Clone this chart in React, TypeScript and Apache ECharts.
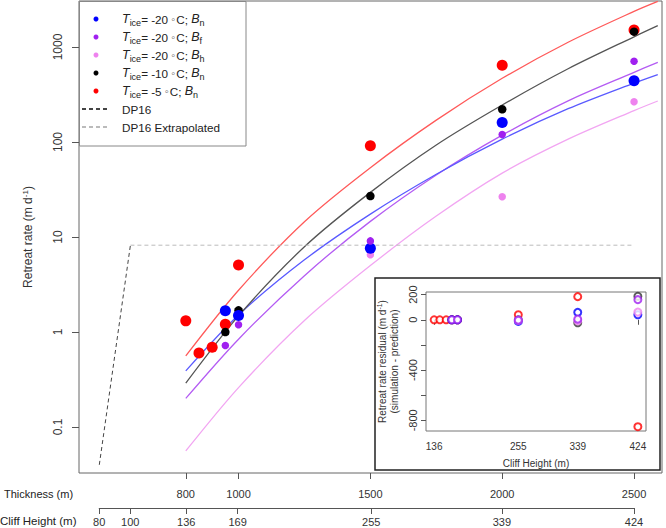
import React, { useEffect, useRef } from 'react';
import * as echarts from 'echarts';

const SANS = "'Liberation Sans', Arial, sans-serif";

// ---- main panel: simulated retreat rate (m/d) vs ice thickness (m)
const blueT = [950, 1000, 1500, 2000, 2500];
const blueRate = [1.67, 1.49, 7.6, 160, 442];
const purpleT = [950, 1000, 1500, 2000, 2500];
const purpleRate = [0.72, 1.19, 9.1, 120, 707];
const violetT = [1500, 2000, 2500];
const violetRate = [6.5, 26.5, 265];
const blackT = [950, 1000, 1500, 2000, 2500];
const blackRate = [1.0, 1.69, 27, 221, 1449];
const redT = [800, 850, 900, 950, 1000, 1500, 2000, 2500];
const redRate = [1.31, 0.6, 0.69, 1.21, 5.07, 91.5, 641, 1511];

// fitted curves
const fitT = [800, 1000, 1250, 1500, 1750, 2000, 2250, 2500, 2590];
const fitBlue = [0.39, 1.51, 5.75, 17.4, 45.7, 107, 224, 417, 513];
const fitPurple = [0.2, 0.84, 3.92, 14.6, 45, 118, 271, 541, 690];
const fitViolet = [0.056, 0.26, 1.32, 5.0, 16.6, 47, 107, 214, 270];
const fitBlack = [0.29, 1.48, 7.9, 29.5, 93, 245, 590, 1280, 1675];
const fitRed = [0.56, 2.75, 14.5, 53.7, 170, 468, 1122, 2371, 3020];

const dp16T = [472, 590];
const dp16Rate = [0.04, 8.2];
const dp16ExtT = [590, 2500];
const dp16ExtRate = [8.2, 8.2];

const thicknessTicks = [800, 1000, 1500, 2000, 2500];
const cliffTicks = [80, 100, 136, 169, 255, 339, 424];
const rateTicks = [0.1, 1, 10, 100, 1000];

// ---- inset: residuals (m/d) vs cliff height (m)
const insetTicksX = [136, 255, 339, 424];
const insetTicksY = [-800, -600, -400, -200, 0, 200];
const insetLabelsY = [-800, -400, 0, 200];
const redResH = [136, 144, 153, 161, 169, 255, 339, 424];
const redRes = [0, 0, 0, 0, 0, 40, 184, -851];
const blackResH = [161, 169, 255, 339, 424];
const blackRes = [0, 0, 0, -24, 187];
const blueResH = [161, 169, 255, 339, 424];
const blueRes = [0, 0, -13, 59, 40];
const violetResH = [255, 339, 424];
const violetRes = [-5, -8, 61];
const purpleResH = [161, 169, 255, 339, 424];
const purpleRes = [0, 0, -3, 5, 160];

const COL = { blue: '#0000FF', purple: '#A020F0', violet: '#EE82EE', black: '#000000', red: '#FF0000' };
const FIT = { blue: '#5a5aff', purple: '#b45cf3', violet: '#f2a6f2', black: '#555555', red: '#ff5a5a' };

const NAMES = {
  blue: 'Tice=-20 Bn',
  purple: 'Tice=-20 Bf',
  violet: 'Tice=-20 Bh',
  black: 'Tice=-10 Bn',
  red: 'Tice=-5 Bn',
};
const LEG: Record<string, string> = {
  [NAMES.blue]: '{g| }{i|T}{s|ice}{n|= -20 }{d|◦}{n|C; }{i|B}{s|n}',
  [NAMES.purple]: '{g| }{i|T}{s|ice}{n|= -20 }{d|◦}{n|C; }{i|B}{s|f}',
  [NAMES.violet]: '{g| }{i|T}{s|ice}{n|= -20 }{d|◦}{n|C; }{i|B}{s|h}',
  [NAMES.black]: '{g| }{i|T}{s|ice}{n|= -10 }{d|◦}{n|C; }{i|B}{s|n}',
  [NAMES.red]: '{g| }{i|T}{s|ice}{n|= -5 }{d|◦}{n|C; }{i|B}{s|n}',
  DP16: '{g| }{n|DP16}',
  'DP16 Extrapolated': '{g| }{n|DP16 Extrapolated}',
};

const zip = (xs: number[], ys: number[]) => xs.map((x, i) => [x, ys[i]]);

const fitLine = (name: string, ys: number[], color: string) => ({
  type: 'line', name, xAxisIndex: 0, yAxisIndex: 0, data: zip(fitT, ys),
  smooth: 0.3, symbol: 'none', lineStyle: { color, width: 1.3 }, z: 2, silent: true,
});
const dots = (name: string, xs: number[], ys: number[], color: string, size: number) => ({
  type: 'scatter', name, xAxisIndex: 0, yAxisIndex: 0, data: zip(xs, ys),
  symbol: 'circle', symbolSize: size, itemStyle: { color, opacity: 1 }, z: 4,
});
const rings = (name: string, xs: number[], ys: number[], color: string) => ({
  type: 'scatter', name: name + ' residual', xAxisIndex: 2, yAxisIndex: 2, data: zip(xs, ys),
  symbol: 'emptyCircle', symbolSize: 7, itemStyle: { color, borderColor: color, borderWidth: 1.1 }, z: 4,
});

const tickStyle = { color: '#555', width: 1 };
const plain = (v: number) => String(v);

const option: any = {
  animation: false,
  backgroundColor: '#ffffff',
  grid: [
    { left: 79, top: 1, width: 583, height: 472, show: true, borderColor: '#666', borderWidth: 1, backgroundColor: 'transparent', outerBoundsMode: 'none', containLabel: false },
    { left: 99.2, top: 507, width: 534.8, height: 1, show: false, outerBoundsMode: 'none', containLabel: false },
    { left: 426, top: 292, width: 220, height: 139, show: true, borderColor: '#777', borderWidth: 1, backgroundColor: '#ffffff', outerBoundsMode: 'none', containLabel: false },
  ],
  xAxis: [
    {
      type: 'value', gridIndex: 0, min: 395, max: 2606,
      axisLine: { show: false }, splitLine: { show: false },
      axisTick: { show: true, customValues: thicknessTicks, length: 6, lineStyle: tickStyle },
      axisLabel: { customValues: thicknessTicks, margin: 15, fontFamily: SANS, fontSize: 11, color: '#333', formatter: plain },
    },
    {
      type: 'value', gridIndex: 1, min: 80, max: 424, position: 'bottom',
      axisLine: { show: true, onZero: false, lineStyle: { color: '#555', width: 1 } }, splitLine: { show: false },
      axisTick: { show: true, customValues: cliffTicks, length: 6, lineStyle: tickStyle },
      axisLabel: { customValues: cliffTicks, margin: 8, fontFamily: SANS, fontSize: 11, color: '#333', formatter: plain },
    },
    {
      type: 'value', gridIndex: 2, min: 124.5, max: 435.5,
      axisLine: { show: false }, splitLine: { show: false },
      axisTick: { show: true, customValues: insetTicksX, length: 5, lineStyle: tickStyle },
      axisLabel: { customValues: insetTicksX, margin: 10, fontFamily: SANS, fontSize: 10, color: '#333', formatter: plain },
      name: 'Cliff Height (m)', nameLocation: 'middle', nameGap: 27, nameMoveOverlap: false,
      nameTextStyle: { fontFamily: SANS, fontSize: 10, color: '#333' },
    },
  ],
  yAxis: [
    {
      type: 'log', logBase: 10, gridIndex: 0, min: 0.03281, max: 3048,
      axisLine: { show: false }, splitLine: { show: false }, minorTick: { show: false },
      axisTick: { show: true, customValues: rateTicks, length: 7, lineStyle: tickStyle },
      axisLabel: { customValues: rateTicks, rotate: 90, margin: 15, fontFamily: SANS, fontSize: 12, color: '#333', formatter: plain },
      name: 'Retreat rate (m d{sup|-1})', nameLocation: 'middle', nameGap: 44, nameMoveOverlap: false,
      nameTextStyle: {
        fontFamily: SANS, fontSize: 12, color: '#333', lineHeight: 14,
        rich: { sup: { fontFamily: SANS, fontSize: 8, lineHeight: 8, verticalAlign: 'top', color: '#333' } },
      },
    },
    { type: 'value', gridIndex: 1, show: false, min: 0, max: 1 },
    {
      type: 'value', gridIndex: 2, min: -885, max: 221,
      axisLine: { show: false }, splitLine: { show: false },
      axisTick: { show: true, customValues: insetTicksY, length: 5, lineStyle: tickStyle },
      axisLabel: { customValues: insetLabelsY, rotate: 90, margin: 8, fontFamily: SANS, fontSize: 11, color: '#333', formatter: plain },
      name: 'Retreat rate residual (m d{sup|-1})\n(simulation - prediction)', nameLocation: 'middle', nameGap: 26, nameMoveOverlap: false,
      nameTextStyle: {
        fontFamily: SANS, fontSize: 10, color: '#333', lineHeight: 12,
        rich: { sup: { fontFamily: SANS, fontSize: 7, lineHeight: 7, verticalAlign: 'top', color: '#333' } },
      },
    },
  ],
  legend: {
    left: 81, top: 11, orient: 'vertical', itemWidth: 28, itemHeight: 5, itemGap: 2,
    padding: 0, selectedMode: false,
    data: [
      { name: NAMES.blue, icon: 'circle' },
      { name: NAMES.purple, icon: 'circle' },
      { name: NAMES.violet, icon: 'circle' },
      { name: NAMES.black, icon: 'circle' },
      { name: NAMES.red, icon: 'circle' },
      { name: 'DP16', itemStyle: { opacity: 0 } },
      { name: 'DP16 Extrapolated', itemStyle: { opacity: 0 } },
    ],
    formatter: (n: string) => LEG[n] || n,
    textStyle: {
      fontFamily: SANS, fontSize: 11.7, lineHeight: 16, color: '#222',
      rich: {
        g: { width: 7, fontSize: 11.7, lineHeight: 16 },
        i: { fontStyle: 'italic', fontFamily: SANS, fontSize: 12.5, lineHeight: 16, color: '#222' },
        n: { fontFamily: SANS, fontSize: 11.7, lineHeight: 16, color: '#222' },
        d: { fontFamily: SANS, fontSize: 11, lineHeight: 16, color: '#555', padding: [0, 1, 0, 0] },
        s: { fontFamily: SANS, fontSize: 9, lineHeight: 8, verticalAlign: 'bottom', color: '#222' },
      },
    },
  },
  graphic: [
    { type: 'rect', shape: { x: 79.5, y: 1.5, width: 166.5, height: 144.5 }, style: { fill: 'none', stroke: '#888', lineWidth: 1 }, silent: true, z: 10 },
    { type: 'rect', shape: { x: 375, y: 278, width: 285, height: 192 }, style: { fill: 'none', stroke: '#222', lineWidth: 1.5 }, silent: true, z: 10 },
    { type: 'text', x: 4, y: 494, style: { text: 'Thickness (m)', font: `11px ${SANS}`, fill: '#222', verticalAlign: 'middle' }, silent: true },
    { type: 'text', x: 0, y: 521, style: { text: 'Cliff Height (m)', font: `11.5px ${SANS}`, fill: '#222', verticalAlign: 'middle' }, silent: true },
  ],
  series: [
    fitLine('fit-violet', fitViolet, FIT.violet),
    fitLine('fit-purple', fitPurple, FIT.purple),
    fitLine('fit-blue', fitBlue, FIT.blue),
    fitLine('fit-black', fitBlack, FIT.black),
    fitLine('fit-red', fitRed, FIT.red),
    {
      type: 'line', name: 'DP16', xAxisIndex: 0, yAxisIndex: 0, data: zip(dp16T, dp16Rate),
      symbol: 'none', lineStyle: { color: '#444', width: 1, type: [4, 3] }, itemStyle: { color: '#444' }, z: 2,
    },
    {
      type: 'line', name: 'DP16 Extrapolated', xAxisIndex: 0, yAxisIndex: 0, data: zip(dp16ExtT, dp16ExtRate),
      symbol: 'none', lineStyle: { color: '#bbbbbb', width: 1, type: [4, 3] }, itemStyle: { color: '#bbbbbb' }, z: 2,
    },
    dots(NAMES.red, redT, redRate, COL.red, 11),
    dots(NAMES.black, blackT, blackRate, COL.black, 8.5),
    dots(NAMES.violet, violetT, violetRate, COL.violet, 7.5),
    dots(NAMES.blue, blueT, blueRate, COL.blue, 11),
    dots(NAMES.purple, purpleT, purpleRate, COL.purple, 7.5),
    rings('red', redResH, redRes, COL.red),
    rings('black', blackResH, blackRes, '#333333'),
    rings('blue', blueResH, blueRes, COL.blue),
    rings('violet', violetResH, violetRes, COL.violet),
    rings('purple', purpleResH, purpleRes, COL.purple),
  ],
};

export default function App() {
  const ref = useRef<HTMLDivElement>(null);
  useEffect(() => {
    document.body.style.margin = '0';
    const chart = echarts.init(ref.current as HTMLDivElement, null, { renderer: 'svg', width: 666, height: 528 });
    chart.setOption(option);
    return () => chart.dispose();
  }, []);
  return (
    <div
      ref={ref}
      style={{ position: 'fixed', left: 0, top: 0, width: 666, height: 528, background: '#fff' }}
    />
  );
}
